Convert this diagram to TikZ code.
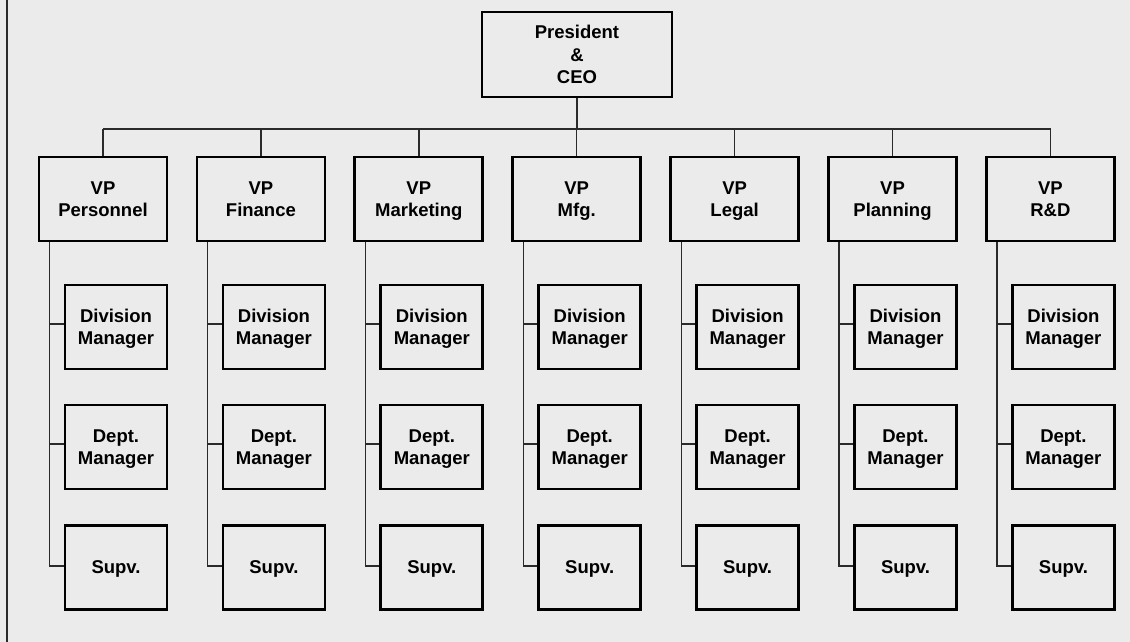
\documentclass[tikz,border=0pt]{standalone}
\usepackage{fontspec}
\setmainfont{Liberation Sans}
\definecolor{bg}{HTML}{EBEBEB}
\definecolor{ln}{HTML}{2A2A2A}
\begin{document}
\begin{tikzpicture}[x=1pt,y=-1pt,
  box/.style={draw=black,line width=2.8pt,inner sep=0pt,align=center,text depth=0pt,
    font=\bfseries\fontsize{18.5}{22.5}\selectfont},
  presbox/.style={box,minimum width=190pt,minimum height=85pt},
  vpbox/.style={box,minimum width=128pt,minimum height=84pt},
  subbox/.style={box,minimum width=102pt,minimum height=84pt},
  link/.style={draw=ln,line width=1.4pt}]
\fill[bg] (0,0) rectangle (1130,642);
\useasboundingbox (0,0) rectangle (1130,642);
\draw[link] (7,0) -- (7,642);
\node[presbox] (pres) at (577,54.5) {President\\\&\\CEO};
\coordinate (busL) at (103,129);
\coordinate (busR) at (1051,129);
\draw[link] (busL) -- (busR);
\draw[link] (pres.south) -- (pres.south |- busL);
\foreach \i/\t in {0/Personnel,1/Finance,2/Marketing,3/Mfg.,4/Legal,5/Planning,6/{R\&D}}{
  \pgfmathsetmacro\cx{103+157.9*\i}
  \node[vpbox] (vp\i) at (\cx,199) {VP\\\t};
  \node[subbox] (dv\i) at (\cx+13,327) {Division\\Manager};
  \node[subbox] (dp\i) at (\cx+13,447) {Dept.\\Manager};
  \node[subbox] (sp\i) at (\cx+13,567.5) {Supv.};
  \draw[link] (vp\i.north) -- (vp\i.north |- busL);
  \coordinate (tp\i) at ([xshift=12pt]vp\i.south west);
  \coordinate (dc\i) at ([yshift=3pt]dv\i.west);
  \coordinate (pc\i) at ([yshift=3pt]dp\i.west);
  \coordinate (sc\i) at ([yshift=1.5pt]sp\i.west);
  \draw[link] (tp\i) |- (sc\i);
  \draw[link] (tp\i |- dc\i) -- (dc\i);
  \draw[link] (tp\i |- pc\i) -- (pc\i);
}
\end{tikzpicture}
\end{document}
